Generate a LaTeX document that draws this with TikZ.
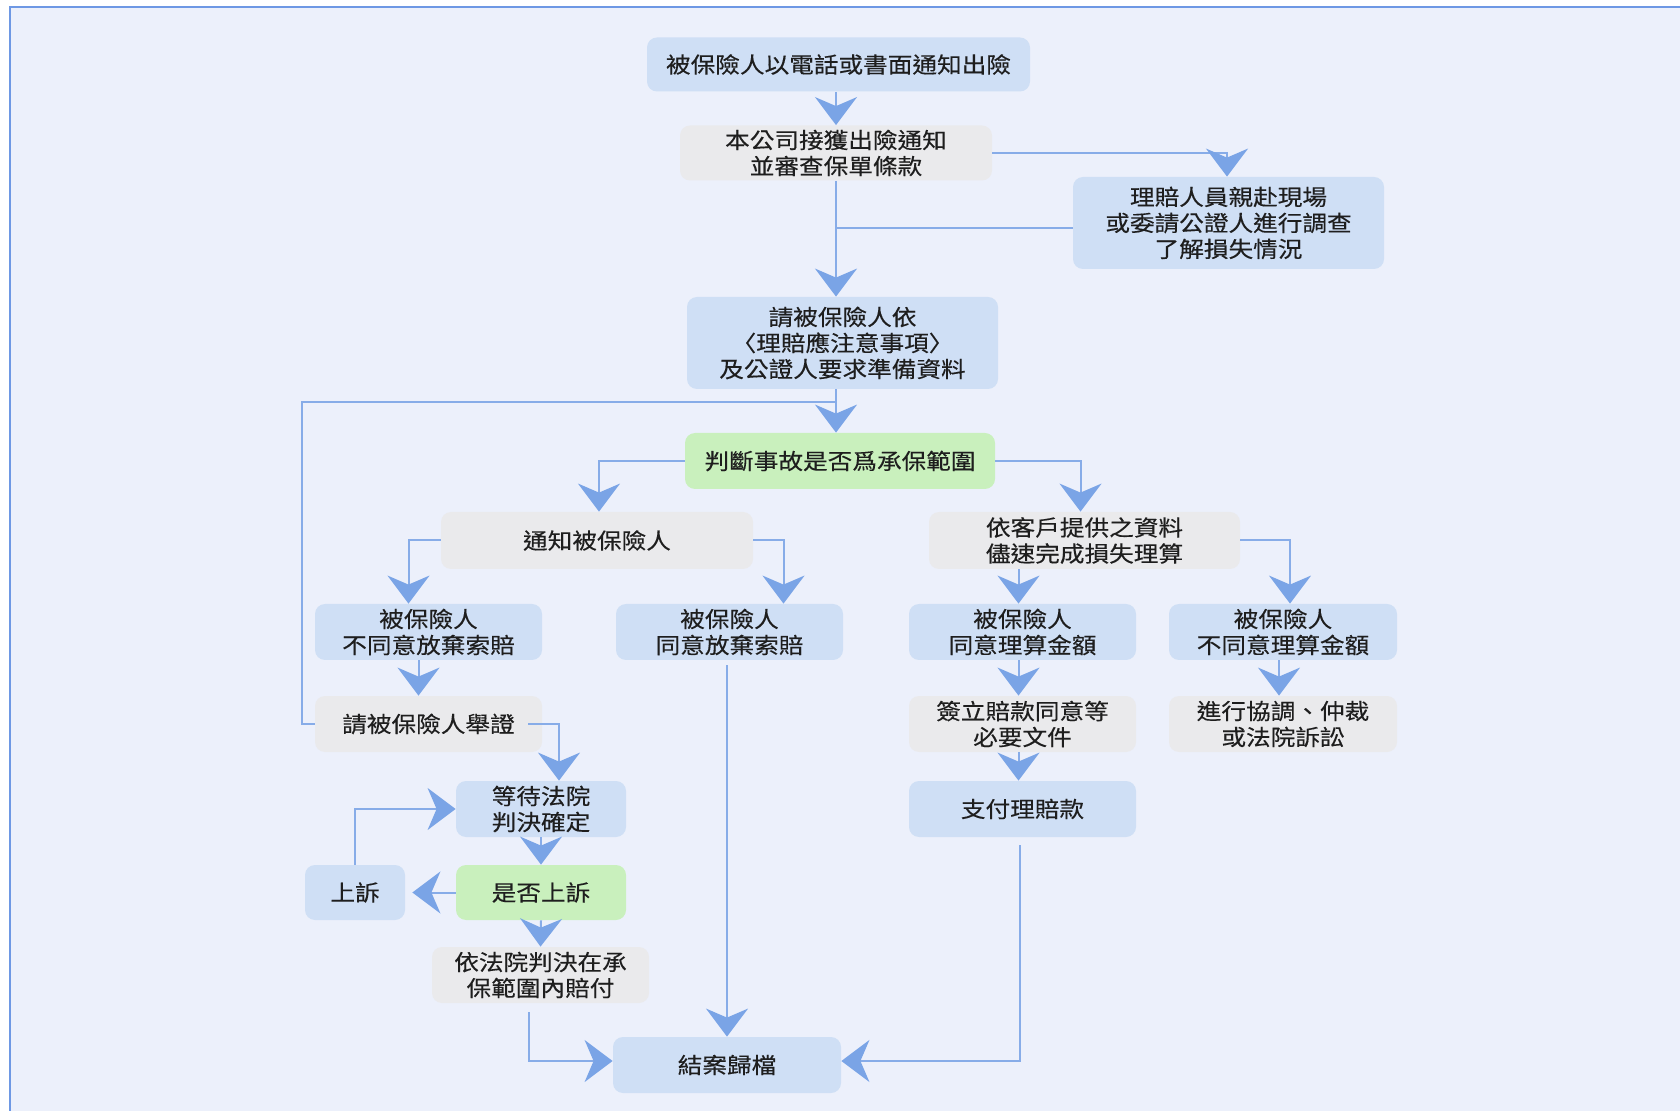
\documentclass[tikz,border=0pt]{standalone}
\usepackage{fontspec}
\newfontfamily\cjk[FakeStretch=1.12,FakeBold=0.3]{Noto Sans CJK TC}
\usetikzlibrary{arrows.meta}
\definecolor{bg}{RGB}{236,240,251}
\definecolor{framecol}{RGB}{110,152,228}
\definecolor{bluebox}{RGB}{207,223,245}
\definecolor{graybox}{RGB}{234,234,236}
\definecolor{greenbox}{RGB}{201,240,189}
\definecolor{lineblue}{RGB}{135,172,232}
\definecolor{tipblue}{RGB}{122,164,230}
\definecolor{txt}{RGB}{30,30,30}
\begin{document}
\begin{tikzpicture}[x=0.5pt,y=-0.5pt,
 box/.style 2 args={rounded corners=5pt, inner sep=0pt, align=center,
   minimum width=#1*0.5pt, minimum height=#2*0.5pt,
   font={\cjk\fontsize{11pt}{13pt}\selectfont}, text=txt},
 bbox/.style={fill=bluebox}, gbox/.style={fill=graybox}, grbox/.style={fill=greenbox},
 conn/.style={draw=lineblue, line width=1pt, -{Stealth[length=14pt,width=21pt,inset=4.5pt,color=tipblue]}},
 link/.style={draw=lineblue, line width=1pt}]
\useasboundingbox (0,0) rectangle (1680,1111);
\fill[white] (0,0) rectangle (1680,1111);
\fill[bg] (10,7) rectangle (1680,1111);
\draw[framecol, line width=1pt] (10,1111) -- (10,7) -- (1680,7);

\node[box={383}{54}, bbox] (b1) at (838.5,64.5) {被保險人以電話或書面通知出險};
\node[box={312}{55}, gbox] (b2) at (836,153) {本公司接獲出險通知\\並審查保單條款};
\node[box={311}{92}, bbox] (b3) at (1228.5,223) {理賠人員親赴現場\\或委請公證人進行調查\\了解損失情況};
\node[box={311}{92}, bbox] (b4) at (842.5,343) {請被保險人依\\〈理賠應注意事項〉\\及公證人要求準備資料};
\node[box={310}{56}, grbox] (b5) at (840,461) {判斷事故是否爲承保範圍};
\node[box={312}{57}, gbox] (b6) at (597,540.5) {通知被保險人};
\node[box={311}{57}, gbox] (b7) at (1084.5,540.5) {依客戶提供之資料\\儘速完成損失理算};
\node[box={227}{56}, bbox] (b8) at (428.5,632) {被保險人\\不同意放棄索賠};
\node[box={227}{56}, bbox] (b9) at (729.5,632) {被保險人\\同意放棄索賠};
\node[box={227}{56}, bbox] (b10) at (1022.5,632) {被保險人\\同意理算金額};
\node[box={228}{56}, bbox] (b11) at (1283,632) {被保險人\\不同意理算金額};
\node[box={227}{56}, gbox] (b12) at (428.5,724) {請被保險人舉證};
\node[box={227}{56}, gbox] (b13) at (1022.5,724) {簽立賠款同意等\\必要文件};
\node[box={228}{56}, gbox] (b14) at (1283,724) {進行協調、仲裁\\或法院訴訟};
\node[box={170}{56}, bbox] (b15) at (541,809) {等待法院\\判決確定};
\node[box={227}{56}, bbox] (b16) at (1022.5,809) {支付理賠款};
\node[box={100}{55}, bbox] (b17) at (355,892.5) {上訴};
\node[box={170}{55}, grbox] (b18) at (541,892.5) {是否上訴};
\node[box={217}{56}, gbox] (b19) at (540.5,975) {依法院判決在承\\保範圍內賠付};
\node[box={228}{56}, bbox] (b20) at (727,1065) {結案歸檔};

\coordinate (sp) at (836,0);
\coordinate (j) at (836,402);
\draw[conn] (b1.south -| sp) -- (b2.north -| sp);
\draw[conn] (b2.east) -| ([xshift=-0.75pt]b3.north);
\draw[link] ([yshift=-2.5pt]b3.west) -- ([yshift=-2.5pt]b3.west -| sp);
\draw[conn] (b2.south -| sp) -- (b4.north -| sp);
\draw[conn] (b4.south -| sp) -- (b5.north -| sp);
\draw[link] (b12.west) -- ++(-13,0) |- (j);
\draw[conn] (b5.west) -| ([xshift=1pt]b6.north);
\draw[conn] (b5.east) -| ([xshift=-2pt]b7.north);
\draw[conn] (b6.west) -| ([xshift=-10pt]b8.north);
\draw[conn] (b6.east) -| ([xshift=27pt]b9.north);
\draw[conn] ([xshift=-5pt]b8.south) -- ([xshift=-5pt]b12.north);
\draw[conn] ([xshift=-7pt]b12.east) -| ([xshift=9pt]b15.north);
\draw[conn] (b15.south) -- (b18.north);
\draw[conn] (b18.west) -- ([xshift=3.5pt]b17.east);
\draw[conn] (b17.north) |- (b15.west);
\draw[conn] (b18.south) -- (b19.north);
\draw[conn, shorten <=4.5pt] ([xshift=-6pt]b19.south) |- ([yshift=2pt]b20.west);
\draw[conn, shorten <=2.5pt] (b9.south -| b20.north) -- (b20.north);
\draw[conn, shorten <=4pt] ([xshift=-1.5pt]b16.south) |- ([yshift=2pt]b20.east);
\draw[conn] ([xshift=-2pt]b7.south -| b10.north) -- ([xshift=-2pt]b10.north);
\draw[conn] (b7.east) -| ([xshift=3.5pt]b11.north);
\draw[conn] ([xshift=-2pt]b10.south) -- ([xshift=-2pt]b13.north);
\draw[conn] ([xshift=-2pt]b11.south) -- ([xshift=-2pt]b14.north);
\draw[conn] ([xshift=-2pt]b13.south) -- ([xshift=-2pt]b16.north);
\end{tikzpicture}
\end{document}
